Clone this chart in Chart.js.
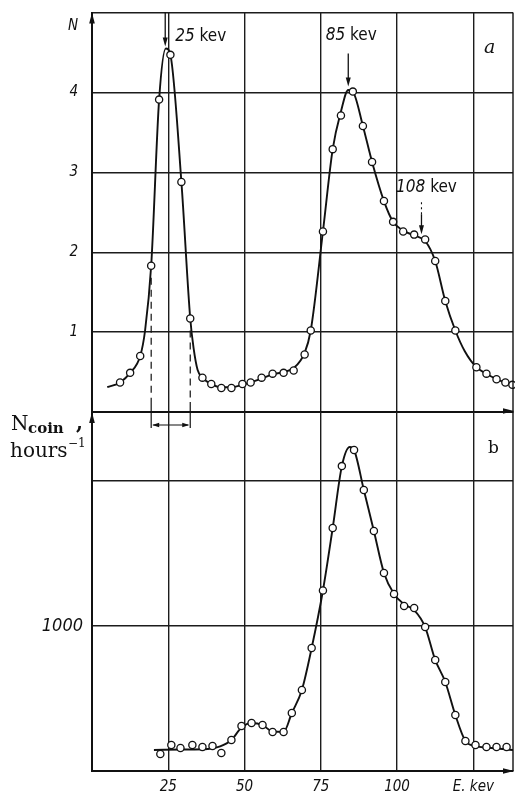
<!DOCTYPE html>
<html>
<head>
<meta charset="utf-8">
<title>Coincidence spectra</title>
<script src="https://cdn.jsdelivr.net/npm/chart.js@4.4.1/dist/chart.umd.min.js"></script>
<style>
  html, body { margin: 0; padding: 0; background: #fff; }
  #page { position: relative; width: 515px; height: 794px; overflow: hidden; }
  #page canvas { position: absolute; left: 0; }
  #chartA { top: 0; }
  #chartB { top: 400px; }
</style>
</head>
<body>
<div id="page">
  <canvas id="chartA" width="515" height="430"></canvas>
  <canvas id="chartB" width="515" height="394"></canvas>
</div>
<script>
/* ================================================================
   Two stacked spectra (a: N, b: N_coin) sharing the energy axis
   ================================================================ */

const E_TICKS       = [25, 50, 75, 100, 125];
const E_TICK_LABELS = ['25', '50', '75', '100', 'E. kev'];
const A_TICKS       = [1, 2, 3, 4, 5];
const A_TICK_LABELS = ['1', '2', '3', '4', ''];
const B_TICKS       = [1000, 2000];
const B_TICK_LABELS = ['1000', ''];

// panel a — measured points
const A_E = [9.2, 12.5, 15.8, 19.4, 22.0, 25.7, 29.3, 32.2, 36.2, 39.1, 42.4, 45.7, 49.3, 52.0,
             55.6, 59.2, 62.8, 66.1, 69.7, 71.7, 75.7, 78.9, 81.6, 85.5, 88.8, 91.8, 95.7, 98.7,
             102.0, 105.6, 109.2, 112.5, 115.8, 119.1, 126.0, 129.3, 132.6, 135.5, 137.8];
const A_N = [0.37, 0.49, 0.70, 1.83, 3.91, 4.47, 2.88, 1.17, 0.43, 0.35, 0.30, 0.30, 0.35, 0.37,
             0.43, 0.48, 0.49, 0.52, 0.72, 1.02, 2.26, 3.29, 3.71, 4.01, 3.58, 3.13, 2.64, 2.38,
             2.26, 2.22, 2.16, 1.89, 1.39, 1.02, 0.56, 0.48, 0.41, 0.37, 0.34];

// panel a — drawn curve
const A_CURVE_E = [5.0, 9.2, 12.5, 15.8, 17.4, 19.4, 22.0, 24.2, 25.7, 29.3, 32.2, 33.3, 34.6, 36.2,
                   39.1, 42.4, 45.7, 49.3, 52.0, 55.6, 59.2, 62.8, 66.1, 69.7, 71.7, 75.7, 78.9,
                   81.6, 84.0, 85.5, 88.8, 91.8, 95.7, 98.7, 102.0, 105.6, 109.2, 112.5, 115.8,
                   119.1, 122.2, 126.0, 129.3, 132.6, 135.5, 138.0];
const A_CURVE_N = [0.31, 0.37, 0.49, 0.70, 1.02, 1.83, 3.91, 4.55, 4.47, 2.88, 1.17, 0.80, 0.53, 0.43,
                   0.35, 0.31, 0.31, 0.34, 0.37, 0.42, 0.47, 0.50, 0.55, 0.74, 1.02, 2.26, 3.29,
                   3.76, 4.03, 4.01, 3.58, 3.13, 2.64, 2.38, 2.27, 2.21, 2.14, 1.89, 1.39,
                   1.02, 0.76, 0.56, 0.48, 0.41, 0.37, 0.34];

// panel b — measured points
const B_E = [22.4, 26.0, 29.0, 32.9, 36.2, 39.5, 42.4, 45.7, 49.0, 52.3, 55.9, 59.2, 62.8, 65.5,
             68.8, 72.0, 75.7, 78.9, 81.9, 85.9, 89.1, 92.4, 95.7, 99.0, 102.3, 105.6, 109.2,
             112.5, 115.8, 119.1, 122.4, 125.7, 129.3, 132.6, 135.9];
const B_N = [117, 179, 159, 179, 166, 172, 124, 214, 310, 331, 317, 269, 269, 400,
             559, 848, 1245, 1676, 2103, 2214, 1938, 1655, 1366, 1221, 1138, 1124, 993,
             766, 614, 386, 207, 179, 166, 166, 166];

// panel b — drawn curve
const B_CURVE_E = [20.3, 30.0, 38.0, 42.0, 45.7, 49.0, 52.3, 55.9, 59.2, 62.8, 65.5, 68.8, 72.0,
                   75.7, 78.9, 81.9, 84.5, 85.9, 89.1, 92.4, 95.7, 99.0, 102.3, 105.6, 109.2,
                   112.5, 115.8, 119.1, 122.4, 125.7, 130.0, 138.0];
const B_CURVE_N = [145, 148, 152, 170, 214, 300, 331, 317, 272, 270, 400, 559, 848,
                   1245, 1676, 2103, 2235, 2214, 1938, 1655, 1366, 1221, 1150, 1110, 993,
                   766, 614, 386, 207, 172, 160, 145];

// peak markers on panel a
const PEAK_LABELS = ['25', '85', '108'];
const PEAK_E      = [24, 84, 108];
const PEAK_TIP_N  = [4.55, 4.05, 2.2];
// half-height width marker of the 25 kev line
const FWHM_E = [19.4, 32.2];
const FWHM_N = [1.83, 1.17];

const INK       = '#111';
const GRID_LINE = '#1c1c1c';
const NARROW    = "'Liberation Sans Narrow', 'DejaVu Sans Condensed', 'Liberation Sans', sans-serif";
const SERIF     = "'DejaVu Serif', 'Liberation Serif', serif";

/* Helper: filled arrow head with its tip at (x, y) */
function arrowHead(ctx, x, y, dir, len = 11, half = 2.8) {
    ctx.beginPath();
    ctx.moveTo(x, y);
    if (dir === 'up')    { ctx.lineTo(x - half, y + len); ctx.lineTo(x + half, y + len); }
    if (dir === 'down')  { ctx.lineTo(x - half, y - len); ctx.lineTo(x + half, y - len); }
    if (dir === 'right') { ctx.lineTo(x - len, y - half); ctx.lineTo(x - len, y + half); }
    if (dir === 'left')  { ctx.lineTo(x + len, y - half); ctx.lineTo(x + len, y + half); }
    ctx.closePath();
    ctx.fill();
}

function seg(ctx, x1, y1, x2, y2, w = 1.4, dash = []) {
    ctx.save();
    ctx.lineWidth = w;
    ctx.setLineDash(dash);
    ctx.beginPath();
    ctx.moveTo(x1, y1);
    ctx.lineTo(x2, y2);
    ctx.stroke();
    ctx.restore();
}

/* number in italic followed by upright " kev" */
function kevLabel(ctx, num, x, y, align) {
    ctx.textBaseline = 'alphabetic';
    ctx.textAlign = 'left';
    const fNum = `italic 17px ${NARROW}`;
    const fKev = `17px ${NARROW}`;
    ctx.font = fNum; const wNum = ctx.measureText(num).width;
    ctx.font = fKev; const wKev = ctx.measureText(' kev').width;
    let left = align === 'center' ? x - (wNum + wKev) / 2 : x;
    ctx.font = fNum; ctx.fillText(num, left, y);
    ctx.font = fKev; ctx.fillText(' kev', left + wNum, y);
}

const panelAExtras = {
    id: 'panelAExtras',
    afterDraw(chart) {
        const { ctx, chartArea: ca, scales: { x, y } } = chart;
        ctx.save();
        ctx.strokeStyle = INK;
        ctx.fillStyle = INK;

        seg(ctx, ca.right, ca.top, ca.right, ca.bottom, 1.4);
        arrowHead(ctx, ca.left, ca.top, 'up');
        arrowHead(ctx, ca.right + 1, ca.bottom - 1, 'right');

        // axis name
        ctx.font = `italic 15px ${NARROW}`;
        ctx.textAlign = 'right';
        ctx.fillText('N', ca.left - 14, ca.top + 17);

        // panel letter
        ctx.font = `italic 19px ${SERIF}`;
        ctx.textAlign = 'left';
        ctx.fillText('a', ca.right - 29, ca.top + 40);

        // peak arrows and labels
        PEAK_E.forEach((e, i) => {
            const px = x.getPixelForValue(e);
            const tip = y.getPixelForValue(PEAK_TIP_N[i]) - 2;
            if (i === 0) {
                seg(ctx, px, ca.top, px, tip - 6, 1.3);
                arrowHead(ctx, px, tip, 'down', 9, 2.5);
                kevLabel(ctx, PEAK_LABELS[i], px + 10, ca.top + 28, 'left');
            } else if (i === 1) {
                seg(ctx, px, tip - 33, px, tip - 6, 1.3);
                arrowHead(ctx, px, tip, 'down', 9, 2.5);
                kevLabel(ctx, PEAK_LABELS[i], px + 3, tip - 46, 'center');
            } else {
                seg(ctx, px, tip - 32, px, tip - 20, 1.1, [2, 3]);
                seg(ctx, px, tip - 20, px, tip - 6, 1.3);
                arrowHead(ctx, px, tip, 'down', 9, 2.5);
                kevLabel(ctx, PEAK_LABELS[i], px + 5, tip - 42, 'center');
            }
        });

        // width marker of the 25 kev line
        const xl = x.getPixelForValue(FWHM_E[0]);
        const xr = x.getPixelForValue(FWHM_E[1]);
        seg(ctx, xl, y.getPixelForValue(FWHM_N[0]) + 12, xl, ca.bottom - 10, 1.2, [7, 5]);
        seg(ctx, xr, y.getPixelForValue(FWHM_N[1]) + 12, xr, ca.bottom - 10, 1.2, [7, 5]);
        seg(ctx, xl, ca.bottom - 10, xl, ca.bottom + 16, 1.2);
        seg(ctx, xr, ca.bottom - 10, xr, ca.bottom + 16, 1.2);
        const ay = ca.bottom + 13;
        seg(ctx, xl + 2, ay, xr - 2, ay, 1.1);
        arrowHead(ctx, xl + 1, ay, 'left', 7, 2.2);
        arrowHead(ctx, xr - 1, ay, 'right', 7, 2.2);

        ctx.restore();
    },
};

const panelBExtras = {
    id: 'panelBExtras',
    afterDraw(chart) {
        const { ctx, chartArea: ca } = chart;
        ctx.save();
        ctx.strokeStyle = INK;
        ctx.fillStyle = INK;

        seg(ctx, ca.right, ca.top, ca.right, ca.bottom, 1.4);
        arrowHead(ctx, ca.left, ca.top, 'up');
        arrowHead(ctx, ca.right + 1, ca.bottom, 'right');

        // panel letter
        ctx.font = `17px ${SERIF}`;
        ctx.textAlign = 'left';
        ctx.textBaseline = 'alphabetic';
        ctx.fillText('b', ca.right - 25, ca.top + 41);

        // axis name  N_coin , hours^-1
        ctx.font = `20px ${SERIF}`;
        ctx.fillText('N', 11, ca.top + 18);
        ctx.font = `bold 15px ${SERIF}`;
        ctx.fillText('coin', 28, ca.top + 21);
        ctx.font = `bold 20px ${SERIF}`;
        ctx.fillText(',', 76, ca.top + 17);
        ctx.font = `20px ${SERIF}`;
        ctx.fillText('hours', 10, ca.top + 45);
        ctx.font = `12px ${SERIF}`;
        ctx.fillText('\u22121', 68, ca.top + 35);

        ctx.restore();
    },
};

function panelScales(opts) {
    return {
        x: {
            type: 'linear', min: 0, max: 138,
            afterBuildTicks: s => { s.ticks = E_TICKS.map(v => ({ value: v })); },
            afterFit: s => { s.height = opts.xHeight; s.paddingLeft = 0; s.paddingRight = 0; },
            ticks: {
                display: opts.xLabels,
                callback: (v, i) => E_TICK_LABELS[i],
                color: INK,
                font: { family: NARROW, size: 15, style: 'italic' },
                padding: 7,
                maxRotation: 0,
            },
            grid: { color: GRID_LINE, lineWidth: 1.4, drawTicks: false },
            border: { color: INK, width: 2 },
        },
        y: {
            type: 'linear', min: 0, max: opts.yMax,
            afterBuildTicks: s => { s.ticks = opts.yTicks.map(v => ({ value: v })); },
            afterFit: s => { s.width = 92; s.paddingTop = 0; s.paddingBottom = 0; },
            ticks: {
                callback: (v, i) => opts.yLabels[i],
                color: INK,
                font: { family: NARROW, size: opts.yFont, style: 'italic' },
                padding: opts.yPad,
            },
            grid: { color: GRID_LINE, lineWidth: 1.4, drawTicks: false },
            border: { color: INK, width: 2 },
        },
    };
}

function pts(xs, ys) { return xs.map((v, i) => ({ x: v, y: ys[i] })); }

function panelDatasets(ex, ey, cx, cy) {
    return [
        {   // measured points on top
            data: pts(ex, ey),
            showLine: false,
            pointRadius: 3.6,
            pointBackgroundColor: '#fff',
            pointBorderColor: INK,
            pointBorderWidth: 1.3,
            clip: false,
        },
        {   // smooth curve through them
            data: pts(cx, cy),
            showLine: true,
            borderColor: INK,
            borderWidth: 1.9,
            pointRadius: 0,
            cubicInterpolationMode: 'monotone',
            fill: false,
        },
    ];
}

const common = {
    responsive: false,
    animation: false,
    events: [],
    plugins: { legend: { display: false }, tooltip: { enabled: false } },
};

new Chart(document.getElementById('chartA'), {
    type: 'scatter',
    plugins: [panelAExtras],
    data: { datasets: panelDatasets(A_E, A_N, A_CURVE_E, A_CURVE_N) },
    options: {
        ...common,
        layout: { autoPadding: false, padding: { top: 12.5, right: 2, bottom: 18, left: 0 } },
        scales: panelScales({ xHeight: 0, xLabels: false, yMax: 5, yTicks: A_TICKS,
                              yLabels: A_TICK_LABELS, yFont: 15, yPad: 14 }),
    },
});

new Chart(document.getElementById('chartB'), {
    type: 'scatter',
    plugins: [panelBExtras],
    data: { datasets: panelDatasets(B_E, B_N, B_CURVE_E, B_CURVE_N) },
    options: {
        ...common,
        layout: { autoPadding: false, padding: { top: 12, right: 2, bottom: 0, left: 0 } },
        scales: panelScales({ xHeight: 23, xLabels: true, yMax: 2476, yTicks: B_TICKS,
                              yLabels: B_TICK_LABELS, yFont: 18, yPad: 9 }),
    },
});
</script>
</body>
</html>
